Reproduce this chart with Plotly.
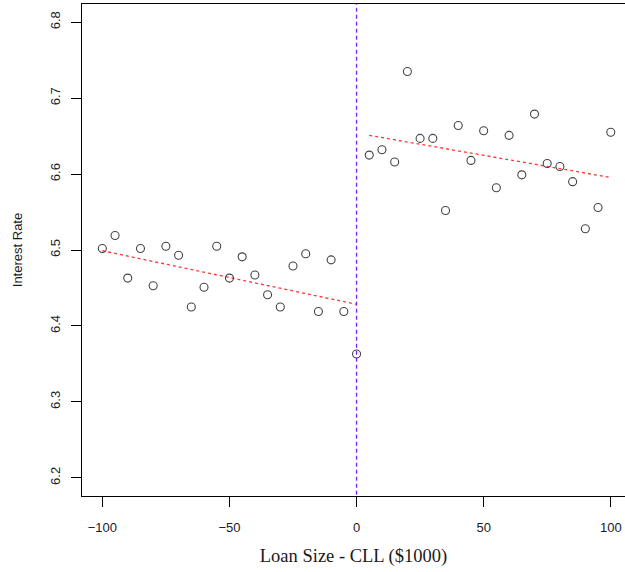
import plotly.graph_objects as go

# Data
left_x = [-100, -95, -90, -85, -80, -75, -70, -65, -60, -55, -50,
          -45, -40, -35, -30, -25, -20, -15, -10, -5, 0]
left_y = [6.502, 6.519, 6.463, 6.502, 6.453, 6.505, 6.493, 6.425, 6.451, 6.505, 6.463,
          6.491, 6.467, 6.441, 6.425, 6.479, 6.495, 6.419, 6.487, 6.419, 6.363]
right_x = [5, 10, 15, 20, 25, 30, 35, 40, 45, 50,
           55, 60, 65, 70, 75, 80, 85, 90, 95, 100]
right_y = [6.625, 6.632, 6.616, 6.735, 6.647, 6.647, 6.552, 6.664, 6.618, 6.657,
           6.582, 6.651, 6.599, 6.679, 6.614, 6.610, 6.590, 6.528, 6.556, 6.655]
fit_left_x = [-100, 0]
fit_left_y = [6.499, 6.4285]
fit_right_x = [5, 100]
fit_right_y = [6.651, 6.5955]
cutoff_x = [0, 0]
cutoff_y = [6.15, 6.85]
x_ticks = [-100, -50, 0, 50, 100]
x_tick_text = ["\u2212100", "\u221250", "0", "50", "100"]
y_ticks = [6.2, 6.3, 6.4, 6.5, 6.6, 6.7, 6.8]

fig = go.Figure()

fig.add_trace(go.Scatter(
    x=cutoff_x, y=cutoff_y, mode="lines",
    line=dict(color="#7a22f5", width=1.3, dash="4px,3px"),
    hoverinfo="skip", showlegend=False))

fig.add_trace(go.Scatter(
    x=fit_left_x, y=fit_left_y, mode="lines",
    line=dict(color="rgba(255,0,0,0.8)", width=1.3, dash="3px,3px"),
    showlegend=False))
fig.add_trace(go.Scatter(
    x=fit_right_x, y=fit_right_y, mode="lines",
    line=dict(color="rgba(255,0,0,0.8)", width=1.3, dash="3px,3px"),
    showlegend=False))

marker = dict(symbol="circle-open", size=8, color="#444444", line=dict(width=1.1, color="#444444"))
fig.add_trace(go.Scatter(x=left_x, y=left_y, mode="markers", marker=marker, showlegend=False))
fig.add_trace(go.Scatter(x=right_x, y=right_y, mode="markers", marker=marker, showlegend=False))

fig.update_layout(
    width=625, height=572,
    margin=dict(l=82, r=0, t=4, b=75.5),
    paper_bgcolor="white", plot_bgcolor="white",
    font=dict(family="Liberation Sans, Arial, sans-serif", size=13, color="#1a1a2a"),
    xaxis=dict(
        range=[-108, 105.6], tickvals=x_ticks, ticktext=x_tick_text,
        showgrid=False, zeroline=False,
        showline=True, linecolor="black", linewidth=1, mirror=True,
        ticks="outside", ticklen=10, tickcolor="black", tickwidth=1,
        ticklabelstandoff=9,
        title=dict(text="Loan Size - CLL ($1000)", standoff=15,
                   font=dict(family="Liberation Serif, Times New Roman, serif", size=18.5, color="#1a1a1a")),
    ),
    yaxis=dict(
        range=[6.176, 6.824], tickvals=y_ticks,
        showgrid=False, zeroline=False,
        showline=True, linecolor="black", linewidth=1, mirror=False,
        ticks="outside", ticklen=10, tickcolor="black", tickwidth=1,
        tickangle=-90, ticklabelstandoff=6,
        title=dict(text="Interest Rate", standoff=22,
                   font=dict(family="Liberation Sans, Arial, sans-serif", size=13, color="#1a1a1a")),
    ),
)

fig.write_html(
    "out.html",
    config={"displayModeBar": False},
    post_script="document.body.style.margin='0';document.body.style.overflow='hidden';",
)
